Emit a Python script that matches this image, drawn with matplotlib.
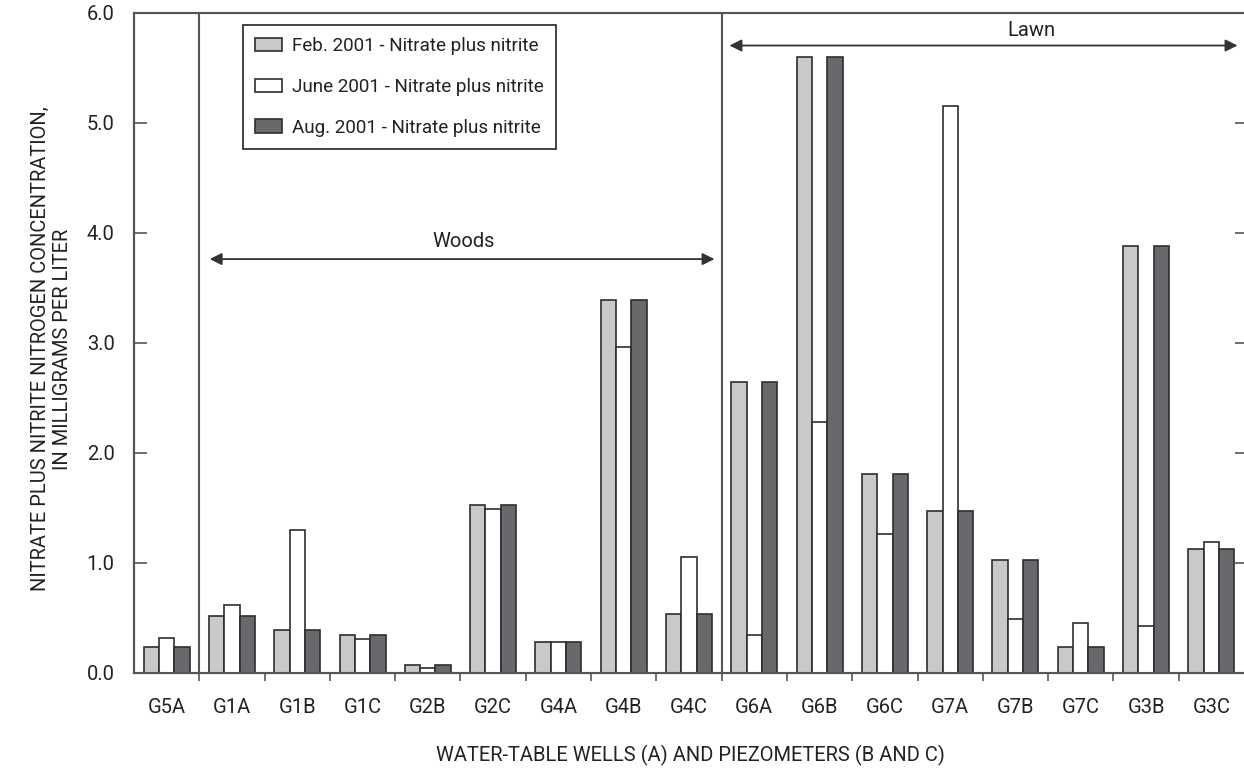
import matplotlib
matplotlib.use("Agg")
import matplotlib.pyplot as plt
from matplotlib.patches import Patch
import numpy as np

plt.rcParams['font.family'] = ['Roboto', 'DejaVu Sans']

wells = ["G5A", "G1A", "G1B", "G1C", "G2B", "G2C", "G4A", "G4B", "G4C",
         "G6A", "G6B", "G6C", "G7A", "G7B", "G7C", "G3B", "G3C"]
feb_2001 = [0.24, 0.515, 0.39, 0.345, 0.07, 1.53, 0.28, 3.39, 0.54,
            2.64, 5.60, 1.81, 1.47, 1.03, 0.24, 3.88, 1.13]
june_2001 = [0.32, 0.62, 1.30, 0.305, 0.048, 1.49, 0.28, 2.96, 1.05,
             0.345, 2.28, 1.26, 5.15, 0.49, 0.45, 0.43, 1.19]
aug_2001 = [0.24, 0.515, 0.39, 0.345, 0.07, 1.53, 0.28, 3.39, 0.54,
            2.64, 5.60, 1.81, 1.47, 1.03, 0.24, 3.88, 1.13]
series_labels = ["Feb. 2001 - Nitrate plus nitrite",
                 "June 2001 - Nitrate plus nitrite",
                 "Aug. 2001 - Nitrate plus nitrite"]
yticks = [0.0, 1.0, 2.0, 3.0, 4.0, 5.0, 6.0]

colors = ["#c8c9cb", "#ffffff", "#68696d"]
edge = "#2e2e2e"
axis_col = "#555555"
txt_col = "#222222"
fs = 14.5

fig = plt.figure(figsize=(12.44, 7.74), dpi=100)
ax = fig.add_axes([134 / 1244, 101 / 774, 1110 / 1244, 660.5 / 774])

x = np.arange(len(wells))
w = 0.235
for off, vals, col, lab in zip((-w, 0, w), (feb_2001, june_2001, aug_2001), colors, series_labels):
    ax.bar(x + off, vals, width=w, color=col, edgecolor=edge, linewidth=1.2, label=lab, zorder=3)

ax.set_xlim(-0.5, len(wells) - 0.5)
ax.set_ylim(0, 6.0)

# y axis: inward ticks on the left, labels with one decimal
ax.set_yticks(yticks)
ax.set_yticklabels([f"{v:.1f}" for v in yticks], fontsize=fs)
ax.tick_params(axis='y', direction='in', length=9, width=1.2, color=axis_col, pad=14)

# x axis: labels at group centres, ticks between groups
ax.set_xticks(x)
ax.set_xticklabels(wells, fontsize=fs)
ax.tick_params(axis='x', which='major', length=0, pad=18)
ax.set_xticks(np.arange(0.5, len(wells) - 1, 1.0), minor=True)
ax.tick_params(axis='x', which='minor', direction='out', length=5.5, width=1.2, color=axis_col)

# right-side inward ticks
ax2 = ax.twinx()
ax2.set_ylim(ax.get_ylim())
ax2.set_yticks(yticks)
ax2.set_yticklabels([])
ax2.tick_params(axis='y', direction='in', length=6.5, width=1.2, color=axis_col)
for a in (ax, ax2):
    a.spines['right'].set_visible(False)
    for s in ('left', 'top', 'bottom'):
        a.spines[s].set_color(axis_col)
        a.spines[s].set_linewidth(1.5)

# dividers between site groups
for xd in (0.5, 8.5):
    ax.axvline(xd, color=axis_col, lw=1.5, zorder=2)

# land-use spans
arrow_kw = dict(arrowstyle='<|-|>', color='#333333', lw=1.3, mutation_scale=18, shrinkA=0, shrinkB=0)
ax.annotate('', xy=(8.39, 3.76), xytext=(0.66, 3.76), arrowprops=arrow_kw, zorder=4)
ax.text(4.55, 3.92, "Woods", ha='center', va='center', fontsize=fs, color=txt_col)
ax.annotate('', xy=(16.40, 5.70), xytext=(8.62, 5.70), arrowprops=arrow_kw, zorder=4)
ax.text(13.25, 5.84, "Lawn", ha='center', va='center', fontsize=fs, color=txt_col)

# legend
handles = [Patch(facecolor=c, edgecolor=edge, linewidth=1.2, label=l) for c, l in zip(colors, series_labels)]
leg = ax.legend(handles=handles, loc='upper left', bbox_to_anchor=(0.098, 0.981), fontsize=13.6,
                frameon=True, fancybox=False, edgecolor=txt_col, framealpha=1,
                handlelength=1.45, handleheight=0.72, handletextpad=0.5, labelspacing=1.2,
                borderpad=0.65, borderaxespad=0)
leg.get_frame().set_linewidth(1.2)
for t in leg.get_texts():
    t.set_color(txt_col)

fig.text(51 / 1244, 1 - 349 / 774,
         "NITRATE PLUS NITRITE NITROGEN CONCENTRATION,\nIN MILLIGRAMS PER LITER",
         rotation=90, ha='center', va='center', fontsize=fs, color=txt_col, linespacing=1.2)
fig.text(690 / 1244, 1 - 755 / 774, "WATER-TABLE WELLS (A) AND PIEZOMETERS (B AND C)",
         ha='center', va='center', fontsize=fs, color=txt_col)

for lab in ax.get_xticklabels() + ax.get_yticklabels():
    lab.set_color(txt_col)

fig.savefig("out.png", dpi=100)
